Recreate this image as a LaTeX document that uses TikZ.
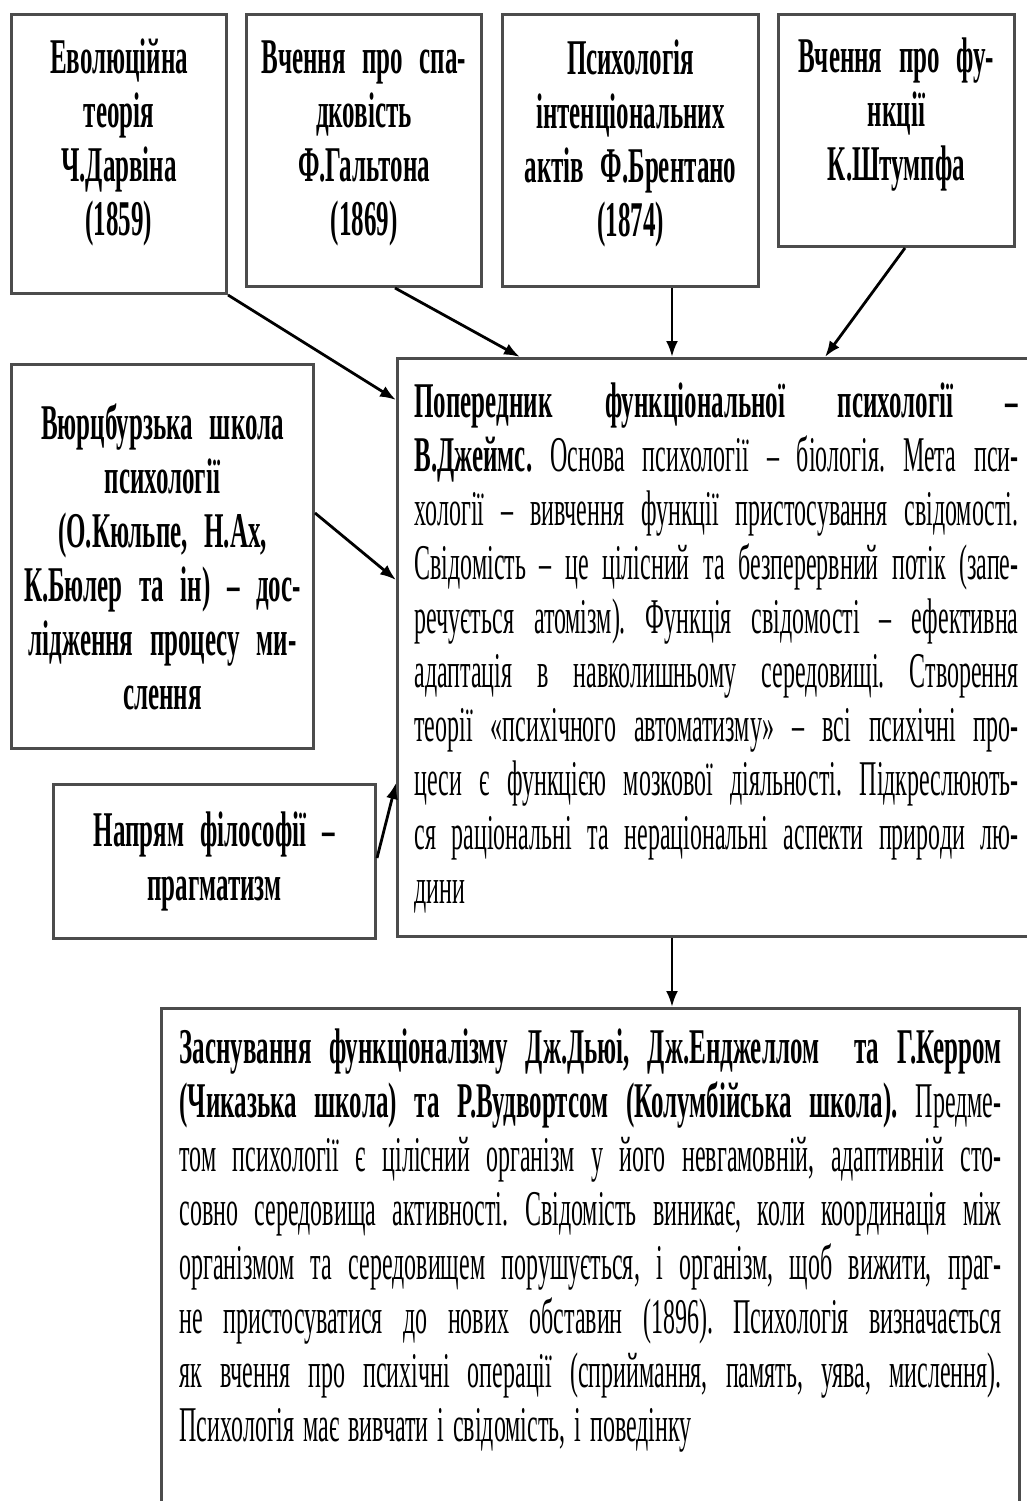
\documentclass[tikz,border=0pt]{standalone}
\usepackage{fontspec}
\setmainfont{Liberation Serif}[UprightFeatures={FakeStretch=0.48},BoldFeatures={FakeStretch=0.5}]
\usetikzlibrary{arrows.meta}
\newcommand{\bigfont}{\fontsize{50}{54}\selectfont\frenchspacing
  \spaceskip=9pt plus 40pt minus 4pt\xspaceskip=\spaceskip}
\newcommand{\headfont}{\fontsize{50}{54}\selectfont\bfseries\frenchspacing
  \spaceskip=10pt\xspaceskip=\spaceskip}

\begin{document}
\begin{tikzpicture}[x=1pt,y=-1pt,
  box/.style={draw=black!70,line width=3pt,anchor=north west,align=center,
    inner xsep=4pt,inner ysep=0pt,font=\headfont},
  txt/.style={box,align=justify,font=\bigfont},
  arr/.style={-{Latex[length=16pt,width=12pt]},line width=2.8pt}]
\useasboundingbox (0,0) rectangle (1027,1501);
% top row
\node[box,minimum width=215,minimum height=279,text width=207pt] (darwin) at (10,13)
  {Еволюційна\\теорія\\Ч.Дарвіна\\(1859)\\[-20pt]\mbox{}};
\node[box,minimum width=235,minimum height=272,text width=227pt] (galton) at (245,13)
  {Вчення про спа-\\дковість\\Ф.Гальтона\\(1869)\\[-30pt]\mbox{}};
\node[box,minimum width=256,minimum height=272,text width=248pt] (brentano) at (501,13)
  {Психологія\\інтенціональних\\актів Ф.Брентано\\(1874)\\[-30pt]\mbox{}};
\node[box,minimum width=236,minimum height=232,text width=228pt] (stumpf) at (777,13)
  {Вчення про фу-\\нкції\\К.Штумпфа\\[-12pt]\mbox{}};
% left column
\node[box,minimum width=300,minimum height=384,text width=294pt] (wurz) at (10,363)
  {Вюрцбурзька школа\\психології\\(О.Кюльпе, Н.Ах,\\К.Бюлер та ін) – дос-\\лідження процесу ми-\\слення};
\node[box,minimum width=322,minimum height=154,text width=314pt] (pragm) at (52,783)
  {Напрям філософії –\\прагматизм};
% main box
\node[txt,minimum height=578,text width=604pt,inner xsep=17pt] (james) at (396,357) {%
\textbf{Попередник функціональної психології –\linebreak
В.Джеймс.} Основа психології – біологія. Мета пси-\linebreak
хології – вивчення функції пристосування свідомості.\linebreak
Свідомість – це цілісний та безперервний потік (запе-\linebreak
речується атомізм). Функція свідомості – ефективна\linebreak
адаптація в навколишньому середовищі. Створення\linebreak
теорії «психічного автоматизму» – всі психічні про-\linebreak
цеси є функцією мозкової діяльності. Підкреслюють-\linebreak
ся раціональні та нераціональні аспекти природи лю-\linebreak
дини};
% bottom box
\node[txt,text width=822pt,inner xsep=18pt,inner ysep=20pt] (dewey) at (160,1007) {%
\textbf{Заснування функціоналізму Дж.Дьюі, Дж.Енджеллом\ \ та Г.Керром\linebreak
(Чиказька школа) та Р.Вудвортсом (Колумбійська школа).} Предме-\linebreak
том психології є цілісний організм у його невгамовній, адаптивній сто-\linebreak
совно середовища активності. Свідомість виникає, коли координація між\linebreak
організмом та середовищем порушується, і організм, щоб вижити, праг-\linebreak
не пристосуватися до нових обставин (1896). Психологія визначається\linebreak
як вчення про психічні операції (сприймання, память, уява, мислення).\linebreak
Психологія має вивчати і свідомість, і поведінку\par
\rule{0pt}{90pt}};
% arrows
\draw[arr] (darwin.south east) -- (james.west |- 0,400);
\draw[arr] (galton.south -| 395,0) -- (james.north -| 520,0);
\draw[arr] (brentano.south -| 672,0) -- (james.north -| 672,0);
\draw[arr] (stumpf.south -| 905,0) -- (james.north -| 825,0);
\draw[arr] (wurz.east |- 0,513) -- (james.west |- 0,580);
\draw[arr] (pragm.east |- 0,858) -- (james.west |- 0,783);
\draw[arr] (james.south -| 672,0) -- (dewey.north -| 672,0);
\end{tikzpicture}
\end{document}
